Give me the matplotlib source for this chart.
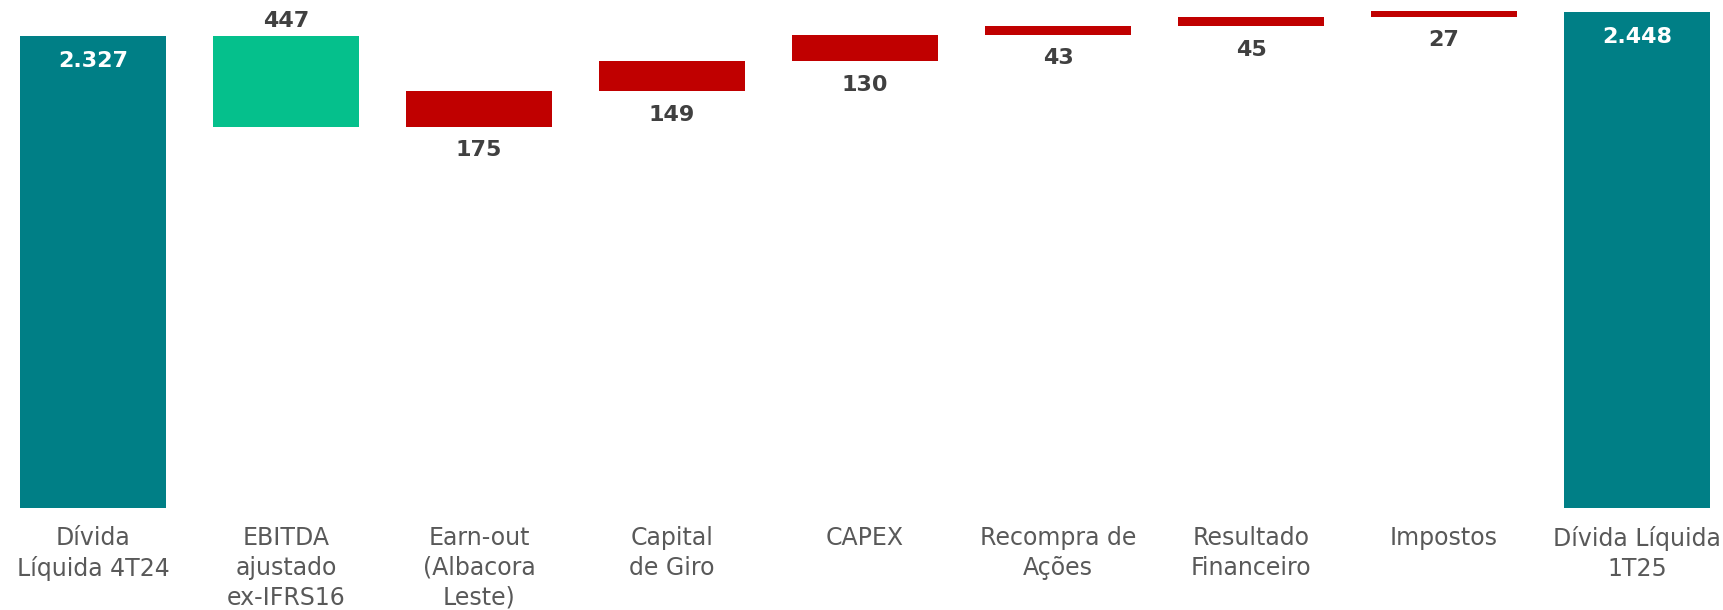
import matplotlib
matplotlib.use("Agg")
import matplotlib.pyplot as plt
import numpy as np

categories = ["Dívida\nLíquida 4T24", "EBITDA\najustado\nex-IFRS16", "Earn-out\n(Albacora\nLeste)",
              "Capital\nde Giro", "CAPEX", "Recompra de\nAções", "Resultado\nFinanceiro",
              "Impostos", "Dívida Líquida\n1T25"]
# first and last are totals, the rest are changes
values = [2327, -447, 175, 149, 130, 43, 45, 27, 2448]
value_labels = ["2.327", "447", "175", "149", "130", "43", "45", "27", "2.448"]

teal = "#007F86"
green = "#05C08C"
red = "#C00000"

fig = plt.figure(figsize=(17.23, 6.10), dpi=100)
ax = fig.add_axes([0, 0.167, 1, 0.833])

x = np.arange(len(categories))
bottoms = []
heights = []
colors = []
running = 0
for i, v in enumerate(values):
    if i == 0 or i == len(values) - 1:
        bottoms.append(0)
        heights.append(v)
        colors.append(teal)
        running = v
    else:
        if v < 0:
            bottoms.append(running + v)
            heights.append(-v)
            colors.append(green)
        else:
            bottoms.append(running)
            heights.append(v)
            colors.append(red)
        running += v

ax.bar(x, heights, bottom=bottoms, width=0.76, color=colors)

for i in range(len(values)):
    top = bottoms[i] + heights[i]
    if colors[i] == teal:
        ax.annotate(value_labels[i], (x[i], top), xytext=(0, -18), textcoords="offset points",
                    ha="center", va="center", color="white", fontsize=16, fontweight="bold")
    elif colors[i] == green:
        ax.annotate(value_labels[i], (x[i], top), xytext=(0, 11), textcoords="offset points",
                    ha="center", va="center", color="#404040", fontsize=16, fontweight="bold")
    else:
        ax.annotate(value_labels[i], (x[i], bottoms[i]), xytext=(0, -17), textcoords="offset points",
                    ha="center", va="center", color="#404040", fontsize=16, fontweight="bold")

ax.set_xlim(-0.482, 8.446)
ax.set_ylim(0, 2505)
ax.set_xticks(x)
ax.set_xticklabels(categories, fontsize=17, color="#595959", linespacing=1.3)
ax.tick_params(axis="x", length=0, pad=13)
ax.set_yticks([])
for s in ax.spines.values():
    s.set_visible(False)

fig.savefig("out.png", dpi=100)
